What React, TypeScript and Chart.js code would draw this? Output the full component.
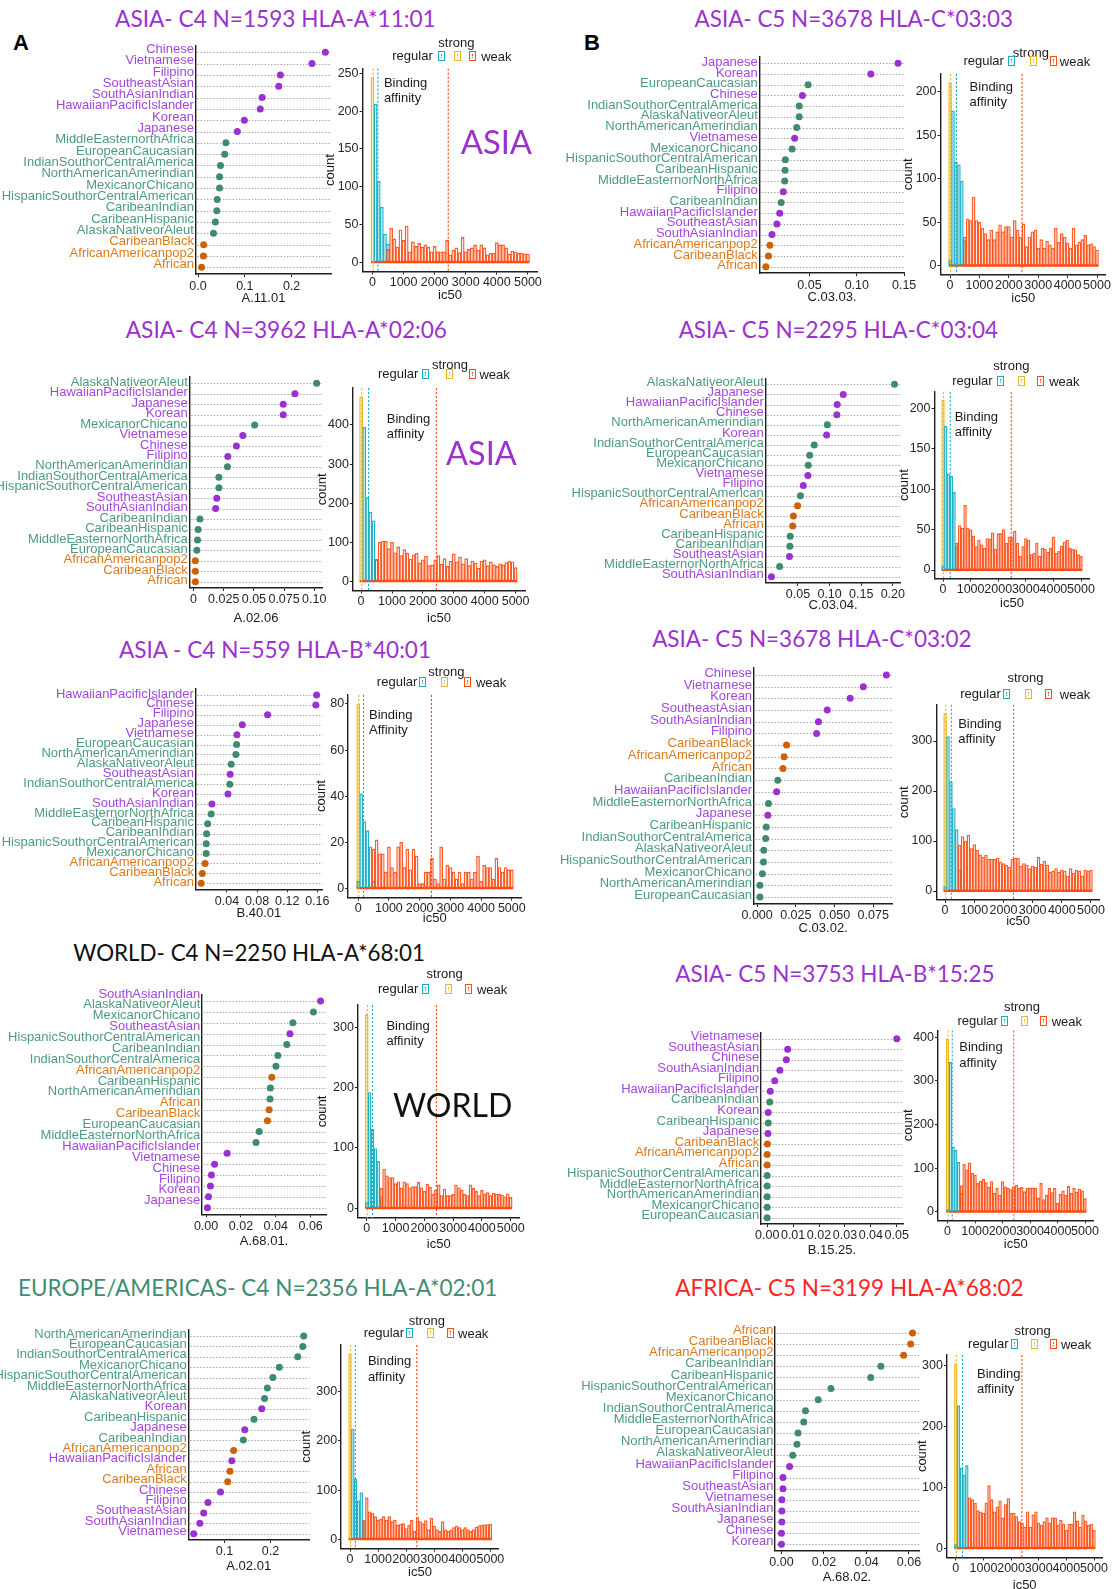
import React, { useEffect, useRef } from 'react';
import { Chart, registerables } from 'chart.js';

Chart.register(...registerables);

const SANS = '"Liberation Sans", Arial, Helvetica, sans-serif';
const HEAD = 'Lato, "Open Sans", sans-serif';
Chart.defaults.font.family = SANS;

const AXIS_COLOR = '#1e1e1e';
const TICK_COLOR = '#262626';
const TEXT_COLOR = '#1a1a1a';

// ---------------- population groups / colours ----------------
const ASIAN_GROUPS = ['Chinese', 'Vietnamese', 'Filipino', 'SoutheastAsian', 'SouthAsianIndian', 'HawaiianPacificIslander', 'Korean', 'Japanese'];
const AFRICAN_GROUPS = ['CaribeanBlack', 'AfricanAmericanpop2', 'African'];
const DOT_COLORS: any = { asian: '#9A2FD2', african: '#CD6108', other: '#3E8B6F' };
const LABEL_COLORS: any = { asian: '#A445DD', african: '#DC7A1B', other: '#4D9A7F' };
const BIN_COLORS: any = { strong: '#ECB620', regular: '#17AEC5', weak: '#FF4A12' };
const TITLE_COLORS: any = { asia: '#9C31CF', world: '#111111', europe: '#3F8E72', africa: '#FF2424' };
function groupOf(c: string) {
  return ASIAN_GROUPS.includes(c) ? 'asian' : AFRICAN_GROUPS.includes(c) ? 'african' : 'other';
}

// ---------------- histogram bins (ic50) ----------------
const STRONG_BINS = [0];
const REGULAR_BINS = [0, 100, 200, 300, 400, 500];
const WEAK_BINS = [500, 600, 700, 800, 900, 1000, 1100, 1200, 1300, 1400, 1500, 1600, 1700, 1800, 1900, 2000, 2100, 2200, 2300, 2400, 2500, 2600, 2700, 2800, 2900, 3000, 3100, 3200, 3300, 3400, 3500, 3600, 3700, 3800, 3900, 4000, 4100, 4200, 4300, 4400, 4500, 4600, 4700, 4800, 4900, 5000];
const IC50_TICKS = [0, 1000, 2000, 3000, 4000, 5000];

// ---------------- Panel A1 : ASIA C4 HLA-A*11:01 ----------------
const a1Cats = ['Chinese', 'Vietnamese', 'Filipino', 'SoutheastAsian', 'SouthAsianIndian', 'HawaiianPacificIslander', 'Korean', 'Japanese', 'MiddleEasternorthAfrica', 'EuropeanCaucasian', 'IndianSouthorCentralAmerica', 'NorthAmericanAmerindian', 'MexicanorChicano', 'HispanicSouthorCentralAmerican', 'CaribeanIndian', 'CaribeanHispanic', 'AlaskaNativeorAleut', 'CaribeanBlack', 'AfricanAmericanpop2', 'African'];
const a1Vals = [0.272, 0.2435, 0.176, 0.1725, 0.137, 0.133, 0.099, 0.084, 0.0595, 0.057, 0.048, 0.046, 0.046, 0.041, 0.040, 0.037, 0.033, 0.012, 0.0115, 0.0076];
const a1XTicks = [0, 0.1, 0.2];
const a1XLabels = ['0.0', '0.1', '0.2'];
const a1Strong = [244];
const a1Regular = [0, 209, 107, 73, 37, 24];
const a1Weak = [17, 45, 31, 20, 43, 29, 48, 14, 27, 21, 25, 20, 23, 20, 14, 21, 14, 14, 14, 29, 10, 16, 19, 13, 33, 14, 17, 19, 23, 16, 23, 19, 10, 12, 12, 26, 23, 23, 19, 11, 15, 14, 12, 12, 11, 11];
const a1Lines = [23, 172, 2437];
const a1YTicks = [0, 50, 100, 150, 200, 250];

// ---------------- Panel A2 : ASIA C4 HLA-A*02:06 ----------------
const a2Cats = ['AlaskaNativeorAleut', 'HawaiianPacificIslander', 'Japanese', 'Korean', 'MexicanorChicano', 'Vietnamese', 'Chinese', 'Filipino', 'NorthAmericanAmerindian', 'IndianSouthorCentralAmerica', 'HispanicSouthorCentralAmerican', 'SoutheastAsian', 'SouthAsianIndian', 'CaribeanIndian', 'CaribeanHispanic', 'MiddleEasternorNorthAfrica', 'EuropeanCaucasian', 'AfricanAmericanpop2', 'CaribeanBlack', 'African'];
const a2Vals = [0.102, 0.084, 0.0743, 0.0743, 0.0506, 0.0408, 0.0355, 0.0284, 0.0281, 0.021, 0.021, 0.0192, 0.0183, 0.0053, 0.0038, 0.0033, 0.0027, 0.0015, 0.0015, 0.0015];
const a2XTicks = [0, 0.025, 0.05, 0.075, 0.1];
const a2XLabels = ['0', '0.025', '0.05', '0.075', '0.10'];
const a2Strong = [471];
const a2Regular = [0, 394, 214, 177, 155, 56];
const a2Weak = [55, 100, 103, 102, 84, 100, 73, 88, 66, 81, 72, 57, 68, 72, 47, 55, 64, 40, 42, 55, 66, 44, 58, 38, 52, 70, 50, 62, 45, 58, 40, 52, 47, 33, 52, 55, 40, 50, 42, 38, 45, 42, 48, 52, 50, 35];
const a2Lines = [23, 242, 2436];
const a2YTicks = [0, 100, 200, 300, 400];

// ---------------- Panel A3 : ASIA C4 HLA-B*40:01 ----------------
const a3Cats = ['HawaiianPacificIslander', 'Chinese', 'Filipino', 'Japanese', 'Vietnamese', 'EuropeanCaucasian', 'NorthAmericanAmerindian', 'AlaskaNativeorAleut', 'SoutheastAsian', 'IndianSouthorCentralAmerica', 'Korean', 'SouthAsianIndian', 'MiddleEasternorNorthAfrica', 'CaribeanHispanic', 'CaribeanIndian', 'HispanicSouthorCentralAmerican', 'MexicanorChicano', 'AfricanAmericanpop2', 'CaribeanBlack', 'African'];
const a3Vals = [0.159, 0.158, 0.094, 0.0604, 0.0533, 0.0528, 0.0519, 0.0457, 0.0443, 0.0438, 0.0414, 0.0201, 0.0191, 0.0144, 0.013, 0.0125, 0.0125, 0.011, 0.0073, 0.0058];
const a3XTicks = [0.04, 0.08, 0.12, 0.16];
const a3XLabels = ['0.04', '0.08', '0.12', '0.16'];
const a3Strong = [80];
const a3Regular = [3, 41, 29, 25, 18, 3];
const a3Weak = [17, 21, 15, 15, 7, 18, 9, 7, 18, 20, 9, 17, 8, 17, 14, 2, 2, 7, 7, 13, 4, 2, 18, 4, 10, 9, 7, 4, 7, 2, 7, 7, 4, 7, 14, 3, 10, 9, 9, 4, 13, 9, 7, 9, 8, 8];
const a3Lines = [20, 174, 2384];
const a3YTicks = [0, 20, 40, 60, 80];

// ---------------- Panel A4 : WORLD C4 HLA-A*68:01 ----------------
const a4Cats = ['SouthAsianIndian', 'AlaskaNativeorAleut', 'MexicanorChicano', 'SoutheastAsian', 'HispanicSouthorCentralAmerican', 'CaribeanIndian', 'IndianSouthorCentralAmerica', 'AfricanAmericanpop2', 'CaribeanHispanic', 'NorthAmericanAmerindian', 'African', 'CaribeanBlack', 'EuropeanCaucasian', 'MiddleEasternorNorthAfrica', 'HawaiianPacificIslander', 'Vietnamese', 'Chinese', 'Filipino', 'Korean', 'Japanese'];
const a4Vals = [0.0657, 0.0616, 0.0498, 0.0481, 0.0463, 0.0412, 0.0401, 0.0377, 0.0369, 0.0367, 0.0362, 0.0352, 0.0305, 0.0287, 0.0121, 0.0049, 0.0031, 0.0025, 0.0014, 0.0008];
const a4XTicks = [0, 0.02, 0.04, 0.06];
const a4XLabels = ['0.00', '0.02', '0.04', '0.06'];
const a4Strong = [321];
const a4Regular = [10, 192, 131, 99, 78, 19];
const a4Weak = [33, 65, 54, 51, 51, 41, 44, 34, 44, 41, 34, 36, 36, 43, 34, 28, 40, 35, 23, 30, 39, 21, 32, 21, 21, 23, 39, 34, 30, 23, 21, 39, 33, 28, 21, 30, 24, 26, 21, 25, 24, 23, 22, 19, 24, 18];
const a4Lines = [20, 198, 2419];
const a4YTicks = [0, 100, 200, 300];

// ---------------- Panel A5 : EUROPE/AMERICAS C4 HLA-A*02:01 ----------------
const a5Cats = ['NorthAmericanAmerindian', 'EuropeanCaucasian', 'IndianSouthorCentralAmerica', 'MexicanorChicano', 'HispanicSouthorCentralAmerican', 'MiddleEasternorNorthAfrica', 'AlaskaNativeorAleut', 'Korean', 'CaribeanHispanic', 'Japanese', 'CaribeanIndian', 'AfricanAmericanpop2', 'HawaiianPacificIslander', 'African', 'CaribeanBlack', 'Chinese', 'Filipino', 'SoutheastAsian', 'SouthAsianIndian', 'Vietnamese'];
const a5Vals = [0.272, 0.270, 0.259, 0.219, 0.205, 0.193, 0.187, 0.181, 0.164, 0.144, 0.141, 0.120, 0.116, 0.112, 0.107, 0.0915, 0.0643, 0.055, 0.0465, 0.0333];
const a5XTicks = [0.1, 0.2];
const a5XLabels = ['0.1', '0.2'];
const a5Strong = [376];
const a5Regular = [0, 224, 122, 78, 95, 36];
const a5Weak = [39, 85, 56, 53, 46, 39, 41, 46, 39, 46, 36, 39, 29, 31, 32, 22, 29, 39, 16, 44, 36, 32, 38, 20, 43, 27, 20, 16, 36, 19, 16, 19, 24, 27, 24, 20, 24, 20, 16, 20, 25, 28, 29, 30, 30, 31];
const a5Lines = [20, 191, 2379];
const a5YTicks = [0, 100, 200, 300];

// ---------------- Panel B1 : ASIA C5 HLA-C*03:03 ----------------
const b1Cats = ['Japanese', 'Korean', 'EuropeanCaucasian', 'Chinese', 'IndianSouthorCentralAmerica', 'AlaskaNativeorAleut', 'NorthAmericanAmerindian', 'Vietnamese', 'MexicanorChicano', 'HispanicSouthorCentralAmerican', 'CaribeanHispanic', 'MiddleEasternorNorthAfrica', 'Filipino', 'CaribeanIndian', 'HawaiianPacificIslander', 'SoutheastAsian', 'SouthAsianIndian', 'AfricanAmericanpop2', 'CaribeanBlack', 'African'];
const b1Vals = [0.1436, 0.1148, 0.0485, 0.0425, 0.0391, 0.0391, 0.0365, 0.0343, 0.0316, 0.0245, 0.0242, 0.0238, 0.0223, 0.020, 0.0185, 0.0155, 0.0103, 0.0081, 0.0066, 0.0039];
const b1XTicks = [0.05, 0.1, 0.15];
const b1XLabels = ['0.05', '0.10', '0.15'];
const b1Strong = [210];
const b1Regular = [6, 178, 119, 116, 97, 29];
const b1Weak = [33, 54, 52, 79, 52, 50, 43, 37, 30, 41, 30, 39, 47, 39, 45, 45, 33, 52, 41, 33, 48, 22, 33, 39, 41, 20, 30, 20, 28, 24, 20, 43, 27, 37, 33, 26, 20, 43, 24, 27, 30, 35, 24, 25, 22, 18];
const b1Lines = [15, 217, 2446];
const b1YTicks = [0, 50, 100, 150, 200];

// ---------------- Panel B2 : ASIA C5 HLA-C*03:04 ----------------
const b2Cats = ['AlaskaNativeorAleut', 'Japanese', 'HawaiianPacificIslander', 'Chinese', 'NorthAmericanAmerindian', 'Korean', 'IndianSouthorCentralAmerica', 'EuropeanCaucasian', 'MexicanorChicano', 'Vietnamese', 'Filipino', 'HispanicSouthorCentralAmerican', 'AfricanAmericanpop2', 'CaribeanBlack', 'African', 'CaribeanHispanic', 'CaribeanIndian', 'SoutheastAsian', 'MiddleEasternorNorthAfrica', 'SouthAsianIndian'];
const b2Vals = [0.2027, 0.1216, 0.112, 0.1115, 0.0964, 0.0953, 0.0757, 0.0685, 0.0662, 0.0657, 0.0584, 0.0539, 0.0494, 0.0427, 0.0416, 0.0377, 0.0371, 0.0365, 0.0209, 0.008];
const b2XTicks = [0.05, 0.1, 0.15, 0.2];
const b2XLabels = ['0.05', '0.10', '0.15', '0.20'];
const b2Strong = [210];
const b2Regular = [5, 178, 119, 116, 96, 29];
const b2Weak = [33, 55, 52, 80, 52, 50, 42, 29, 37, 31, 27, 39, 38, 46, 26, 45, 45, 50, 33, 41, 40, 48, 33, 17, 29, 39, 37, 19, 21, 33, 17, 27, 26, 22, 27, 41, 21, 23, 30, 35, 37, 27, 26, 25, 19, 17];
const b2Lines = [20, 264, 2471];
const b2YTicks = [0, 50, 100, 150, 200];

// ---------------- Panel B3 : ASIA C5 HLA-C*03:02 ----------------
const b3Cats = ['Chinese', 'Vietnamese', 'Korean', 'SoutheastAsian', 'SouthAsianIndian', 'Filipino', 'CaribeanBlack', 'AfricanAmericanpop2', 'African', 'CaribeanIndian', 'HawaiianPacificIslander', 'MiddleEasternorNorthAfrica', 'Japanese', 'CaribeanHispanic', 'IndianSouthorCentralAmerica', 'AlaskaNativeorAleut', 'HispanicSouthorCentralAmerican', 'MexicanorChicano', 'NorthAmericanAmerindian', 'EuropeanCaucasian'];
const b3Vals = [0.0835, 0.0686, 0.0601, 0.0453, 0.0396, 0.0384, 0.019, 0.0174, 0.0167, 0.0133, 0.0126, 0.0073, 0.0069, 0.0059, 0.0055, 0.0043, 0.0041, 0.0034, 0.0018, 0.0018];
const b3XTicks = [0, 0.025, 0.05, 0.075];
const b3XLabels = ['0.000', '0.025', '0.050', '0.075'];
const b3Strong = [355];
const b3Regular = [9, 309, 219, 165, 123, 42];
const b3Weak = [92, 109, 100, 112, 85, 93, 82, 72, 68, 72, 64, 64, 64, 66, 58, 55, 52, 48, 64, 66, 66, 50, 55, 52, 45, 50, 48, 68, 54, 60, 52, 38, 40, 45, 38, 42, 40, 30, 45, 36, 42, 40, 30, 42, 40, 42];
const b3Lines = [24, 216, 2345];
const b3YTicks = [0, 100, 200, 300];

// ---------------- Panel B4 : ASIA C5 HLA-B*15:25 ----------------
const b4Cats = ['Vietnamese', 'SoutheastAsian', 'Chinese', 'SouthAsianIndian', 'Filipino', 'HawaiianPacificIslander', 'CaribeanIndian', 'Korean', 'CaribeanHispanic', 'Japanese', 'CaribeanBlack', 'AfricanAmericanpop2', 'African', 'HispanicSouthorCentralAmerican', 'MiddleEasternorNorthAfrica', 'NorthAmericanAmerindian', 'MexicanorChicano', 'EuropeanCaucasian'];
const b4Vals = [0.05, 0.0079, 0.0074, 0.0049, 0.0029, 0.0012, 0.001, 0.0004, 0.0004, 0.0003, 0.0001, 0, 0, 0, 0, 0, 0, 0];
const b4XTicks = [0, 0.01, 0.02, 0.03, 0.04, 0.05];
const b4XLabels = ['0.00', '0.01', '0.02', '0.03', '0.04', '0.05'];
const b4Strong = [396];
const b4Regular = [5, 343, 149, 141, 113, 42];
const b4Weak = [60, 109, 96, 112, 88, 84, 65, 70, 74, 67, 56, 69, 42, 54, 38, 69, 57, 54, 51, 57, 61, 54, 56, 46, 54, 55, 55, 54, 31, 65, 28, 38, 54, 44, 54, 19, 40, 48, 38, 58, 42, 54, 45, 52, 48, 30];
const b4Lines = [20, 170, 2409];
const b4YTicks = [0, 100, 200, 300, 400];

// ---------------- Panel B5 : AFRICA C5 HLA-A*68:02 ----------------
const b5Cats = ['African', 'CaribeanBlack', 'AfricanAmericanpop2', 'CaribeanIndian', 'CaribeanHispanic', 'HispanicSouthorCentralAmerican', 'MexicanorChicano', 'IndianSouthorCentralAmerica', 'MiddleEasternorNorthAfrica', 'EuropeanCaucasian', 'NorthAmericanAmerindian', 'AlaskaNativeorAleut', 'HawaiianPacificIslander', 'Filipino', 'SoutheastAsian', 'Vietnamese', 'SouthAsianIndian', 'Japanese', 'Chinese', 'Korean'];
const b5Vals = [0.0617, 0.0608, 0.0575, 0.0468, 0.042, 0.0233, 0.0173, 0.0113, 0.0105, 0.0078, 0.0073, 0.0053, 0.0038, 0.0007, 0.0007, 0.0002, 0.0002, 0.0002, 0, 0];
const b5XTicks = [0, 0.02, 0.04, 0.06];
const b5XLabels = ['0.00', '0.02', '0.04', '0.06'];
const b5Strong = [303];
const b5Regular = [7, 235, 132, 121, 136, 0];
const b5Weak = [83, 80, 74, 62, 60, 58, 75, 103, 80, 60, 68, 78, 50, 72, 82, 58, 58, 52, 44, 42, 35, 60, 35, 55, 60, 42, 38, 44, 50, 42, 50, 50, 38, 46, 40, 30, 40, 40, 60, 45, 35, 55, 45, 38, 40, 30];
const b5Lines = [20, 243, 2391];
const b5YTicks = [0, 100, 200, 300];

// ---------------- panel assembly (layout kept separate from data) ----------------
const PANELS: any[] = [
  {
    title: 'ASIA- C4 N=1593 HLA-A*11:01', tc: TITLE_COLORS.asia, tx: 275.4, ty: 19.3, tw: 320.7,
    cats: a1Cats, vals: a1Vals, xTicks: a1XTicks, xLabels: a1XLabels, xTitle: 'A.11.01',
    dot: { left: 195.4, first: 52.3, last: 267.3, k: 468, cl: 0, titleY: 298, lo: -3 },
    strong: a1Strong, regular: a1Regular, weak: a1Weak, lines: a1Lines, yTicks: a1YTicks,
    hist: { left: 362.5, x0: 372.5, x5000: 527.9, y0: 262.3, yk: 0.756, countX: 330.4, ic50Y: 295 },
    leg: { sx: 456.4, sy: 41.7, rx: 412.5, ry: 55, cx: 441, yx: 457.1, wx: 472.5, kx: 496.4 },
    bind: { x: 383.9, y1: 81.7, y2: 96.7, w2: 'affinity' },
    overlay: { text: 'ASIA', x: 496.4, y: 141.7, w: 71.4, color: TITLE_COLORS.asia },
  },
  {
    title: 'ASIA- C4 N=3962 HLA-A*02:06', tc: TITLE_COLORS.asia, tx: 286.4, ty: 330, tw: 321.4,
    cats: a2Cats, vals: a2Vals, xTicks: a2XTicks, xLabels: a2XLabels, xTitle: 'A.02.06',
    dot: { left: 189.3, first: 383.3, last: 581.7, k: 1207, cl: 0, titleY: 618.3, lo: -1 },
    strong: a2Strong, regular: a2Regular, weak: a2Weak, lines: a2Lines, yTicks: a2YTicks,
    hist: { left: 352.9, x0: 361.1, x5000: 515.6, y0: 581.3, yk: 0.3908, countX: 323.2, ic50Y: 618.3 },
    leg: { sx: 450, sy: 364.3, rx: 398.2, ry: 373.3, cx: 425.7, yx: 449.3, wx: 472.1, kx: 494.6 },
    bind: { x: 386.8, y1: 418.3, y2: 433.3, w2: 'affinity' },
    overlay: { text: 'ASIA', x: 481.4, y: 453.3, w: 70.7, color: TITLE_COLORS.asia },
  },
  {
    title: 'ASIA - C4 N=559 HLA-B*40:01', tc: TITLE_COLORS.asia, tx: 275, ty: 650, tw: 312.9,
    cats: a3Cats, vals: a3Vals, xTicks: a3XTicks, xLabels: a3XLabels, xTitle: 'B.40.01',
    dot: { left: 195.4, first: 695, last: 883.3, k: 753.3, cl: 0, titleY: 913.3, lo: -1 },
    strong: a3Strong, regular: a3Regular, weak: a3Weak, lines: a3Lines, yTicks: a3YTicks,
    hist: { left: 348.2, x0: 358.2, x5000: 511.8, y0: 888.3, yk: 2.304, countX: 321.4, ic50Y: 918.3 },
    leg: { sx: 446.4, sy: 670.7, rx: 397.1, ry: 681, cx: 422.1, yx: 444.6, wx: 467.1, kx: 491.1 },
    bind: { x: 369, y1: 714, y2: 728.7, w2: 'Affinity' },
  },
  {
    title: 'WORLD- C4 N=2250 HLA-A*68:01', tc: TITLE_COLORS.world, tx: 249.1, ty: 953.3, tw: 351.8,
    cats: a4Cats, vals: a4Vals, xTicks: a4XTicks, xLabels: a4XLabels, xTitle: 'A.68.01.',
    dot: { left: 201.8, first: 1001, last: 1207.7, k: 1743, cl: 0, titleY: 1241, lo: -7 },
    strong: a4Strong, regular: a4Regular, weak: a4Weak, lines: a4Lines, yTicks: a4YTicks,
    hist: { left: 357.9, x0: 366.8, x5000: 510.7, y0: 1208.3, yk: 0.6033, countX: 323.2, ic50Y: 1244.3 },
    leg: { sx: 444.6, sy: 973.3, rx: 398.2, ry: 987.7, cx: 425.7, yx: 448.2, wx: 468.9, kx: 492.1 },
    bind: { x: 386.4, y1: 1025, y2: 1040, w2: 'affinity' },
    overlay: { text: 'WORLD', x: 452.7, y: 1105, w: 119.6, color: TITLE_COLORS.world },
  },
  {
    title: 'EUROPE/AMERICAS- C4 N=2356 HLA-A*02:01', tc: TITLE_COLORS.europe, tx: 257.7, ty: 1288.3, tw: 479.6,
    cats: a5Cats, vals: a5Vals, xTicks: a5XTicks, xLabels: a5XLabels, xTitle: 'A.02.01',
    dot: { left: 188.2, first: 1336, last: 1533.7, k: 461, cl: 0, titleY: 1566, lo: -2 },
    strong: a5Strong, regular: a5Regular, weak: a5Weak, lines: a5Lines, yTicks: a5YTicks,
    hist: { left: 341.1, x0: 350, x5000: 490.4, y0: 1539.3, yk: 0.492, countX: 307, ic50Y: 1571.7 },
    leg: { sx: 426.8, sy: 1320, rx: 383.9, ry: 1331.7, cx: 409, yx: 430.4, wx: 450.7, kx: 473.2 },
    bind: { x: 367.9, y1: 1360, y2: 1375.7, w2: 'affinity' },
  },
  {
    title: 'ASIA- C5 N=3678 HLA-C*03:03', tc: TITLE_COLORS.asia, tx: 853.8, ty: 19.3, tw: 318.6,
    cats: b1Cats, vals: b1Vals, xTicks: b1XTicks, xLabels: b1XLabels, xTitle: 'C.03.03.',
    dot: { left: 759.3, first: 63.3, last: 266.7, k: 946, cl: 556, titleY: 296.7, lo: -1 },
    strong: b1Strong, regular: b1Regular, weak: b1Weak, lines: b1Lines, yTicks: b1YTicks,
    hist: { left: 940.5, x0: 950.1, x5000: 1097, y0: 265.7, yk: 0.87, countX: 908.7, ic50Y: 298.3 },
    leg: { sx: 1030.8, sy: 51.7, rx: 983.7, ry: 60, cx: 1011.3, yx: 1033.6, wx: 1053.8, kx: 1075 },
    bind: { x: 969.6, y1: 86, y2: 101, w2: 'affinity' },
  },
  {
    title: 'ASIA- C5 N=2295 HLA-C*03:04', tc: TITLE_COLORS.asia, tx: 838.4, ty: 330, tw: 319.6,
    cats: b2Cats, vals: b2Vals, xTicks: b2XTicks, xLabels: b2XLabels, xTitle: 'C.03.04.',
    dot: { left: 765.3, first: 384.3, last: 576.7, k: 632, cl: 556, titleY: 605, lo: -2 },
    strong: b2Strong, regular: b2Regular, weak: b2Weak, lines: b2Lines, yTicks: b2YTicks,
    hist: { left: 934.5, x0: 943, x5000: 1081, y0: 570, yk: 0.8083, countX: 905.1, ic50Y: 602.7 },
    leg: { sx: 1011.3, sy: 365, rx: 972.4, ry: 380, cx: 1000.7, yx: 1021.2, wx: 1040.4, kx: 1064.4 },
    bind: { x: 954.7, y1: 416, y2: 431, w2: 'affinity' },
  },
  {
    title: 'ASIA- C5 N=3678 HLA-C*03:02', tc: TITLE_COLORS.asia, tx: 811.9, ty: 639, tw: 319.6,
    cats: b3Cats, vals: b3Vals, xTicks: b3XTicks, xLabels: b3XLabels, xTitle: 'C.03.02.',
    dot: { left: 753.6, first: 675, last: 897, k: 1548, cl: 556, titleY: 927.7, lo: -1.5 },
    strong: b3Strong, regular: b3Regular, weak: b3Weak, lines: b3Lines, yTicks: b3YTicks,
    hist: { left: 936.3, x0: 945.1, x5000: 1091, y0: 891, yk: 0.5, countX: 905, ic50Y: 921 },
    leg: { sx: 1025.5, sy: 676.7, rx: 980.5, ry: 692.7, cx: 1006.7, yx: 1028, wx: 1048.5, kx: 1075 },
    bind: { x: 958.2, y1: 722.7, y2: 737.7, w2: 'affinity' },
  },
  {
    title: 'ASIA- C5 N=3753 HLA-B*15:25', tc: TITLE_COLORS.asia, tx: 834.9, ty: 974.3, tw: 319.6,
    cats: b4Cats, vals: b4Vals, xTicks: b4XTicks, xLabels: b4XLabels, xTitle: 'B.15.25.',
    dot: { left: 760.7, first: 1038.7, last: 1217.7, k: 2592, cl: 556, titleY: 1250, lo: -2 },
    strong: b4Strong, regular: b4Regular, weak: b4Weak, lines: b4Lines, yTicks: b4YTicks,
    hist: { left: 938, x0: 947.6, x5000: 1085, y0: 1211.7, yk: 0.436, countX: 908.7, ic50Y: 1244 },
    leg: { sx: 1022, sy: 1006, rx: 977.7, ry: 1020, cx: 1004.2, yx: 1024.4, wx: 1043.9, kx: 1066.9 },
    bind: { x: 959.3, y1: 1046, y2: 1061.7, w2: 'affinity' },
  },
  {
    title: 'AFRICA- C5 N=3199 HLA-A*68:02', tc: TITLE_COLORS.africa, tx: 849.4, ty: 1287.7, tw: 348.7,
    cats: b5Cats, vals: b5Vals, xTicks: b5XTicks, xLabels: b5XLabels, xTitle: 'A.68.02.',
    dot: { left: 774.9, first: 1333, last: 1544.3, k: 2125, cl: 556, titleY: 1576.7, lo: -2.5 },
    strong: b5Strong, regular: b5Regular, weak: b5Weak, lines: b5Lines, yTicks: b5YTicks,
    hist: { left: 946.9, x0: 955.8, x5000: 1094, y0: 1548.3, yk: 0.6078, countX: 922.8, ic50Y: 1585 },
    leg: { sx: 1032.6, sy: 1330, rx: 988.3, ry: 1342.7, cx: 1014.2, yx: 1034.3, wx: 1053.1, kx: 1076.1 },
    bind: { x: 977, y1: 1373.3, y2: 1388.3, w2: 'affinity' },
  },
];

// ---------------- helpers ----------------
let measureCtx: any = null;
function fitSize(text: string, family: string, target: number, weight = 'normal') {
  if (typeof document === 'undefined') return 24;
  if (!measureCtx) measureCtx = document.createElement('canvas').getContext('2d');
  measureCtx.font = `${weight} 100px ${family}`;
  const w = measureCtx.measureText(text).width || 1;
  return (100 * target) / w;
}

function Txt({ x, y, size, color = TEXT_COLOR, family = SANS, align = 'center', weight = 400, children }: any) {
  return (
    <div
      style={{
        position: 'absolute', left: x, top: y,
        transform: `translate(${align === 'left' ? '0' : '-50%'}, -50%)`,
        fontSize: size, lineHeight: 1, color, fontFamily: family, fontWeight: weight,
        whiteSpace: 'nowrap', pointerEvents: 'none',
      }}
    >
      {children}
    </div>
  );
}

function FitTxt({ x, y, w, color, text, family = HEAD }: any) {
  const size = fitSize(text, family, w);
  return <Txt x={x} y={y} size={size} color={color} family={family}>{text}</Txt>;
}

function KeyBox({ x, y, color }: any) {
  return (
    <div style={{ position: 'absolute', left: x - 3.5, top: y - 5, width: 5, height: 8, border: `1.2px solid ${color}` }}>
      <div style={{ position: 'absolute', left: 2, top: 2, height: 4, borderLeft: `1px dotted ${color}` }} />
    </div>
  );
}

function Legend({ g }: any) {
  return (
    <>
      <Txt x={g.sx} y={g.sy} size={13}>strong</Txt>
      <Txt x={g.rx} y={g.ry} size={13}>regular</Txt>
      <KeyBox x={g.cx} y={g.ry + 1} color={BIN_COLORS.regular} />
      <KeyBox x={g.yx} y={g.ry + 1} color={BIN_COLORS.strong} />
      <KeyBox x={g.wx} y={g.ry + 1} color={BIN_COLORS.weak} />
      <Txt x={g.kx} y={g.ry + 1} size={13}>weak</Txt>
    </>
  );
}

// dotted horizontal guides at each category
const guideLines = {
  id: 'guideLines',
  beforeDatasetsDraw(chart: any) {
    const { ctx, chartArea, scales } = chart;
    const ys = scales.y;
    ctx.save();
    ctx.strokeStyle = '#8c8c8c';
    ctx.lineWidth = 0.8;
    ctx.setLineDash([1.4, 1.8]);
    ys.ticks.forEach((t: any) => {
      const y = Math.round(ys.getPixelForValue(t.value)) + 0.5;
      ctx.beginPath();
      ctx.moveTo(chartArea.left + 2, y);
      ctx.lineTo(chartArea.right, y);
      ctx.stroke();
    });
    ctx.restore();
  },
};

function DotPlot({ p }: any) {
  const ref = useRef<HTMLCanvasElement>(null);
  const L = p.dot;
  const n = p.cats.length;
  const vmin = Math.min(...p.vals);
  const vmax = Math.max(...p.vals);
  const pad = 0.05 * (vmax - vmin);
  const xmin = vmin - pad;
  const xmax = vmax + pad;
  const sp = (L.last - L.first) / (n - 1);
  const top = L.first - 0.6 * sp;
  const bottom = L.last + 0.6 * sp;
  const right = L.left + (xmax - xmin) * L.k;
  const cLeft = L.cl;
  const cTop = Math.floor(top - 12);
  const W = Math.ceil(right + 20 - cLeft);
  const H = Math.round(L.titleY + 7.8 - cTop);

  useEffect(() => {
    const chart = new Chart(ref.current as any, {
      type: 'scatter',
      data: {
        datasets: [{
          data: p.vals.map((v: number, i: number) => ({ x: v, y: i })),
          pointRadius: 3.5,
          pointHoverRadius: 3.5,
          pointBackgroundColor: p.cats.map((c: string) => DOT_COLORS[groupOf(c)]),
          pointBorderColor: p.cats.map((c: string) => DOT_COLORS[groupOf(c)]),
          pointBorderWidth: 0,
        }],
      },
      options: {
        animation: false, responsive: false, devicePixelRatio: 1, events: [],
        layout: { padding: { left: 0, top: top - cTop, right: cLeft + W - right, bottom: 0 } },
        plugins: { legend: { display: false }, tooltip: { enabled: false } },
        scales: {
          x: {
            type: 'linear', min: xmin, max: xmax,
            afterBuildTicks: (s: any) => { s.ticks = p.xTicks.map((v: number) => ({ value: v })); },
            afterFit: (s: any) => { s.height = cTop + H - bottom; },
            ticks: {
              autoSkip: false, maxRotation: 0, minRotation: 0, padding: 1.5, color: TICK_COLOR,
              font: { size: 12.5 }, callback: (_v: any, i: number) => p.xLabels[i],
            },
            grid: { display: true, drawOnChartArea: false, drawTicks: true, tickLength: 3, color: AXIS_COLOR, lineWidth: 1 },
            border: { display: true, color: AXIS_COLOR, width: 1.4 },
            title: { display: true, text: p.xTitle, color: TEXT_COLOR, font: { size: 13, lineHeight: 1.2 }, padding: 0 },
          },
          y: {
            type: 'linear', reverse: true, min: -0.6, max: n - 0.4,
            afterBuildTicks: (s: any) => { s.ticks = p.cats.map((_c: string, i: number) => ({ value: i })); },
            afterFit: (s: any) => { s.width = L.left - cLeft; },
            ticks: {
              autoSkip: false, padding: 1.5, labelOffset: L.lo, font: { size: 13 },
              color: (ctx: any) => LABEL_COLORS[groupOf(p.cats[ctx.tick ? ctx.tick.value : ctx.index])],
              callback: (v: any) => p.cats[v],
            },
            grid: { display: false, drawTicks: false, tickLength: 0 },
            border: { display: true, color: AXIS_COLOR, width: 1.4 },
          },
        },
      } as any,
      plugins: [guideLines],
    });
    return () => chart.destroy();
  }, []);

  return <canvas ref={ref} width={W} height={H} style={{ position: 'absolute', left: cLeft, top: cTop, width: W, height: H }} />;
}

function barSet(vals: number[], bins: number[], color: string) {
  return {
    type: 'bar',
    data: vals.map((v, i) => ({ x: bins[i], y: v })),
    backgroundColor: 'rgba(255,255,255,0)',
    borderColor: color,
    borderWidth: 0.7,
    borderSkipped: false,
    grouped: false,
    barPercentage: 1,
    categoryPercentage: 1,
  };
}

function Histogram({ p }: any) {
  const ref = useRef<HTMLCanvasElement>(null);
  const L = p.hist;
  const maxC = Math.max(...p.strong, ...p.regular, ...p.weak);
  const ymin = -0.05 * maxC;
  const ymax = 1.05 * maxC;
  const top = L.y0 - ymax * L.yk;
  const bottom = L.y0 - ymin * L.yk;
  const kx = (L.x5000 - L.x0) / 5000;
  const xmin = -(L.x0 - L.left) / kx;
  const xmax = 5305;
  const right = L.x0 + xmax * kx;
  const cLeft = Math.round(L.countX - 7.8);
  const cTop = Math.floor(top - 12);
  const W = Math.ceil(right + 22 - cLeft);
  const H = Math.round(L.ic50Y + 7.8 - cTop);

  useEffect(() => {
    const lineColors = [BIN_COLORS.strong, BIN_COLORS.regular, BIN_COLORS.weak];
    const vLines = {
      id: 'vLines',
      afterDatasetsDraw(chart: any) {
        const { ctx, chartArea, scales } = chart;
        p.lines.forEach((v: number, i: number) => {
          const x = scales.x.getPixelForValue(v);
          ctx.save();
          ctx.strokeStyle = lineColors[i];
          ctx.lineWidth = 1.1;
          ctx.setLineDash([2.2, 1.8]);
          ctx.beginPath();
          ctx.moveTo(x, chartArea.top);
          ctx.lineTo(x, chartArea.bottom);
          ctx.stroke();
          ctx.restore();
        });
      },
    };
    const chart = new Chart(ref.current as any, {
      type: 'bar',
      data: {
        datasets: [
          {
            type: 'line',
            data: [{ x: REGULAR_BINS[0] - 50, y: 0 }, { x: WEAK_BINS[WEAK_BINS.length - 1] + 50, y: 0 }],
            borderColor: BIN_COLORS.weak, borderWidth: 2, pointRadius: 0, fill: false,
          },
          barSet(p.weak, WEAK_BINS, 'rgba(255,74,18,0.9)'),
          barSet(p.regular, REGULAR_BINS, 'rgba(23,174,197,0.95)'),
          barSet(p.strong, STRONG_BINS, 'rgba(236,182,32,1)'),
        ] as any,
      },
      options: {
        animation: false, responsive: false, devicePixelRatio: 1, events: [],
        layout: { padding: { left: 0, top: top - cTop, right: cLeft + W - right, bottom: 0 } },
        plugins: { legend: { display: false }, tooltip: { enabled: false } },
        scales: {
          x: {
            type: 'linear', offset: false, min: xmin, max: xmax,
            afterBuildTicks: (s: any) => { s.ticks = IC50_TICKS.map((v) => ({ value: v })); },
            afterFit: (s: any) => { s.height = cTop + H - bottom; },
            ticks: { autoSkip: false, maxRotation: 0, minRotation: 0, padding: 0.5, color: TICK_COLOR, font: { size: 12.5 }, callback: (v: any) => String(v) },
            grid: { display: true, offset: false, drawOnChartArea: false, drawTicks: true, tickLength: 3, color: AXIS_COLOR, lineWidth: 1 },
            border: { display: true, color: AXIS_COLOR, width: 1.4 },
            title: { display: true, text: 'ic50', color: TEXT_COLOR, font: { size: 13, lineHeight: 1.2 }, padding: 0 },
          },
          y: {
            type: 'linear', min: ymin, max: ymax, beginAtZero: false,
            afterBuildTicks: (s: any) => { s.ticks = p.yTicks.map((v: number) => ({ value: v })); },
            afterFit: (s: any) => { s.width = L.left - cLeft; },
            ticks: { autoSkip: false, padding: 1, color: TICK_COLOR, font: { size: 12.5 }, callback: (v: any) => String(v) },
            grid: { display: true, drawOnChartArea: false, drawTicks: true, tickLength: 3, color: AXIS_COLOR, lineWidth: 1 },
            border: { display: true, color: AXIS_COLOR, width: 1.4 },
            title: { display: true, text: 'count', color: TEXT_COLOR, font: { size: 13, lineHeight: 1.2 }, padding: 0 },
          },
        },
      } as any,
      plugins: [vLines],
    });
    return () => chart.destroy();
  }, []);

  return <canvas ref={ref} width={W} height={H} style={{ position: 'absolute', left: cLeft, top: cTop, width: W, height: H }} />;
}

function Panel({ p }: any) {
  return (
    <>
      <FitTxt x={p.tx} y={p.ty} w={p.tw} color={p.tc} text={p.title} />
      <DotPlot p={p} />
      <Histogram p={p} />
      <Legend g={p.leg} />
      <Txt x={p.bind.x} y={p.bind.y1} size={13} align="left">Binding</Txt>
      <Txt x={p.bind.x} y={p.bind.y2} size={13} align="left">{p.bind.w2}</Txt>
      {p.overlay ? <FitTxt x={p.overlay.x} y={p.overlay.y} w={p.overlay.w} color={p.overlay.color} text={p.overlay.text} /> : null}
    </>
  );
}

export default function App() {
  return (
    <div style={{ position: 'absolute', left: 0, top: 0, width: 1115, height: 1589, overflow: 'hidden', background: '#ffffff', fontFamily: SANS }}>
      <Txt x={13} y={43} size={22} weight={700} align="left" color="#000">A</Txt>
      <Txt x={584} y={43} size={22} weight={700} align="left" color="#000">B</Txt>
      {PANELS.map((p, i) => <Panel key={i} p={p} />)}
    </div>
  );
}
